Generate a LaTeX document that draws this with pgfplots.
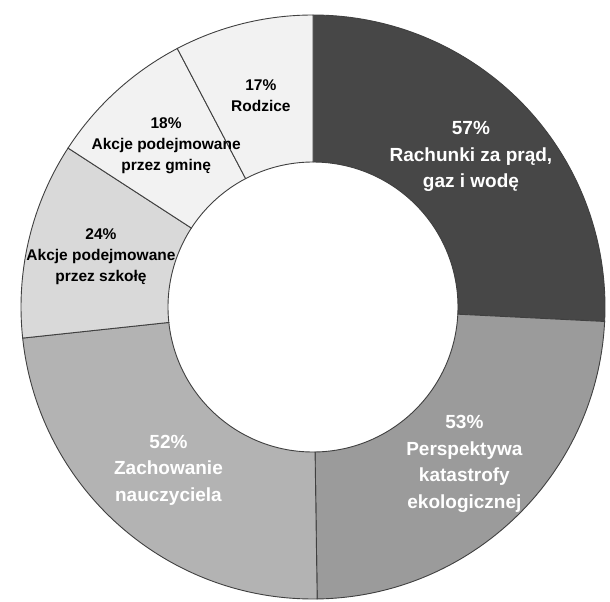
\documentclass[border=0pt]{standalone}
\usepackage{fontspec}
\setmainfont{Liberation Sans}
\usepackage{pgfplots}
\usepackage{pgfplotstable}
\pgfplotsset{compat=1.18}
\definecolor{cA}{HTML}{474747}
\definecolor{cB}{HTML}{9B9B9B}
\definecolor{cC}{HTML}{B3B3B3}
\definecolor{cD}{HTML}{D9D9D9}
\definecolor{cE}{HTML}{F2F2F2}
\definecolor{edge}{HTML}{404040}
\def\fsbig{\fontsize{19}{26.5}\selectfont\bfseries}
\def\fssmall{\fontsize{15.5}{21}\selectfont\bfseries}
\pgfplotstableread[col sep=semicolon]{
value;fillc;textc;fs;label
57;cA;white;big;57\%\\Rachunki za prąd,\\gaz i wodę
53;cB;white;big;53\%\\Perspektywa\\katastrofy\\ekologicznej
52;cC;white;big;52\%\\Zachowanie\\nauczyciela
24;cD;black;small;24\%\\Akcje podejmowane\\przez szkołę
18;cE;black;small;18\%\\Akcje podejmowane\\przez gminę
17;cE;black;small;17\%\\Rodzice
}\data
\begin{document}
\begin{tikzpicture}
\begin{axis}[hide axis, x=1pt, y=1pt, xmin=0, xmax=610, ymin=0, ymax=601,
  scale only axis, clip=false]
\pgfplotsextra{
  \path (axis cs:0,0) rectangle (axis cs:610,601);
  \coordinate (C) at (axis cs:313,294);
  \pgfplotstablegetrowsof{\data}\pgfmathtruncatemacro\last{\pgfplotsretval-1}
  \xdef\total{0}
  \foreach \i in {0,...,\last}{
    \pgfplotstablegetelem{\i}{value}\of\data
    \pgfmathsetmacro\t{\total+\pgfplotsretval}\xdef\total{\t}
  }
  \xdef\cum{0}
  \foreach \i in {0,...,\last}{
    \pgfplotstablegetelem{\i}{value}\of\data \let\v\pgfplotsretval
    \pgfplotstablegetelem{\i}{fillc}\of\data \let\fc\pgfplotsretval
    \pgfmathsetmacro\a{90-\cum/\total*360}
    \pgfmathsetmacro\b{90-(\cum+\v)/\total*360}
    \fill[fill=\fc, draw=edge, line width=0.9pt]
      ([shift={(\a:292pt)}]C) arc[start angle=\a, end angle=\b, radius=292pt]
      -- ([shift={(\b:145pt)}]C) arc[start angle=\b, end angle=\a, radius=145pt]
      -- cycle;
    \pgfmathsetmacro\c{\cum+\v}\xdef\cum{\c}
  }
  \xdef\cum{0}
  \foreach \i in {0,...,\last}{
    \pgfplotstablegetelem{\i}{value}\of\data \let\v\pgfplotsretval
    \pgfplotstablegetelem{\i}{textc}\of\data \let\tc\pgfplotsretval
    \pgfplotstablegetelem{\i}{fs}\of\data \let\fs\pgfplotsretval
    \pgfplotstablegetelem{\i}{label}\of\data \let\lab\pgfplotsretval
    \pgfmathsetmacro\m{90-(\cum+\v/2)/\total*360}
    \node[text=\tc, align=center, font=\csname fs\fs\endcsname, inner sep=0pt]
      at ([shift={(\m:218pt)}]C) {\lab};
    \pgfmathsetmacro\c{\cum+\v}\xdef\cum{\c}
  }
}
\end{axis}
\end{tikzpicture}
\end{document}
